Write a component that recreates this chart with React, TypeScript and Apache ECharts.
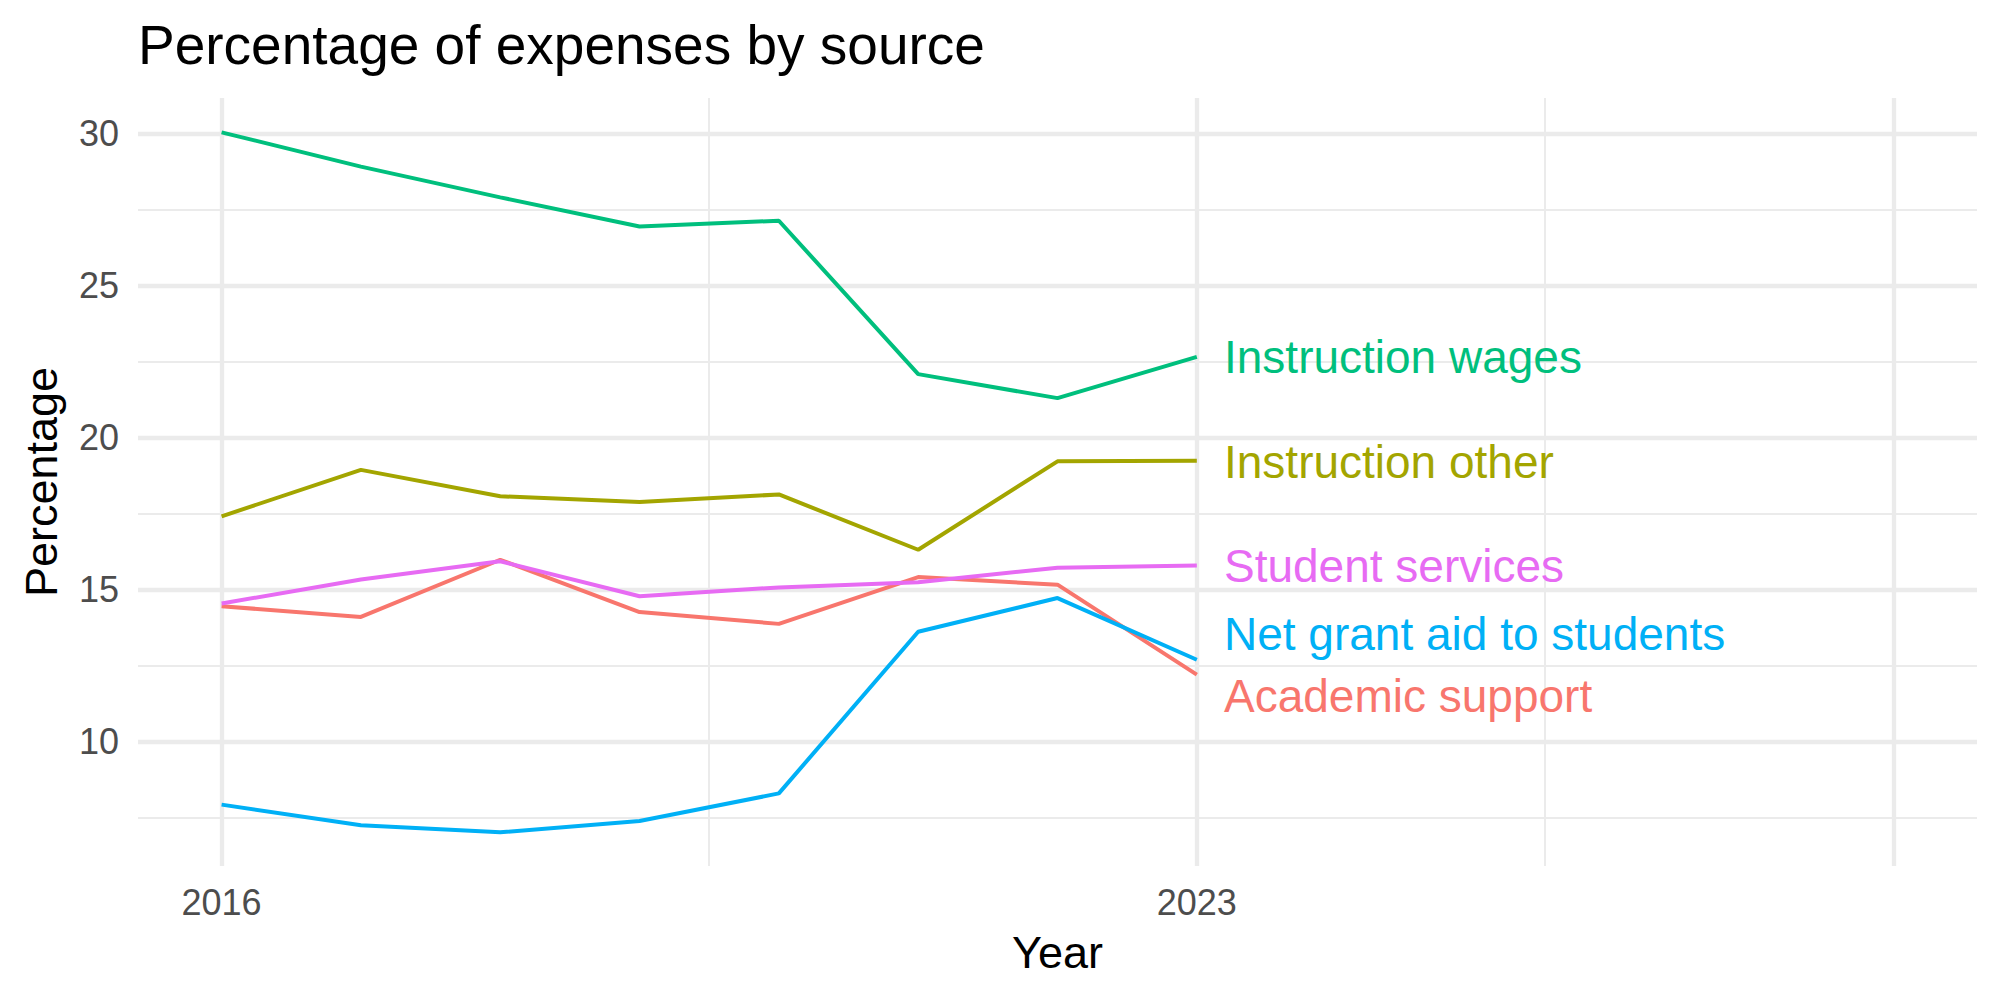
import React, { useEffect, useRef } from "react";
import * as echarts from "echarts";

// Expense shares by source, 2016–2023 (percent)
const years = [2016, 2017, 2018, 2019, 2020, 2021, 2022, 2023];
const seriesNames = [
  "Academic support",
  "Instruction other",
  "Instruction wages",
  "Net grant aid to students",
  "Student services",
];
const academicSupport = [14.45, 14.1, 15.98, 14.26, 13.87, 15.41, 15.16, 12.2];
const instructionOther = [17.41, 18.94, 18.07, 17.88, 18.13, 16.31, 19.22, 19.24];
const instructionWages = [30.05, 28.92, 27.91, 26.95, 27.14, 22.09, 21.3, 22.66];
const netGrantAid = [7.92, 7.24, 7.01, 7.38, 8.29, 13.61, 14.72, 12.69];
const studentServices = [14.54, 15.33, 15.93, 14.78, 15.07, 15.24, 15.72, 15.79];
const seriesColors = ["#F8766D", "#A3A500", "#00BF7D", "#00B0F6", "#E76BF3"];

// Direct labels at the right end of each line (x, y in data units)
const labelX = 2023.195;
const labelY = [11.48, 19.21, 22.66, 13.55, 15.79];

// Axis ticks and grid
const yTickLabels = [10, 15, 20, 25, 30];
const yMinorGrid = [7.5, 12.5, 17.5, 22.5, 27.5];
const xTickLabels = [2016, 2023];
const xMajorGrid = [2016, 2023, 2028];
const xMinorGrid = [2019.5, 2025.5];

const FONT = "'Liberation Sans', Arial, Helvetica, sans-serif";
const GRID_COLOR = "#EBEBEB";

export default function App() {
  const ref = useRef<HTMLDivElement>(null);

  useEffect(() => {
    if (!ref.current) return;
    const chart = echarts.init(ref.current, undefined, { renderer: "svg" });

    const values = [academicSupport, instructionOther, instructionWages, netGrantAid, studentServices];

    const gridLine = (axis: "xAxis" | "yAxis", v: number, width: number) => ({
      [axis]: v,
      lineStyle: { color: GRID_COLOR, width, type: "solid" },
    });

    const lineSeries = seriesNames.map((name, i) => ({
      name,
      type: "line",
      z: 3,
      showSymbol: false,
      silent: true,
      data: years.map((y, j) => [y, values[i][j]]),
      lineStyle: { color: seriesColors[i], width: 4 },
      itemStyle: { color: seriesColors[i] },
    }));

    const labelSeries = seriesNames.map((name, i) => ({
      name: name + " label",
      type: "scatter",
      z: 4,
      silent: true,
      symbolSize: 0,
      itemStyle: { opacity: 1, color: seriesColors[i] },
      data: [[labelX, labelY[i]]],
      label: {
        show: true,
        position: "right",
        distance: 0,
        formatter: name,
        color: seriesColors[i],
        opacity: 1,
        fontSize: 46,
        fontFamily: FONT,
        align: "left",
        verticalAlign: "middle",
      },
    }));

    chart.setOption({
      animation: false,
      backgroundColor: "#FFFFFF",
      textStyle: { fontFamily: FONT },
      title: {
        text: "Percentage of expenses by source",
        left: 138,
        top: 17,
        padding: 0,
        textStyle: { fontSize: 55, fontWeight: "normal", color: "#000000", fontFamily: FONT },
      },
      grid: { left: 138, right: 23, top: 98, bottom: 134, containLabel: false },
      xAxis: {
        type: "value",
        min: 2015.4,
        max: 2028.6,
        name: "Year",
        nameLocation: "middle",
        nameGap: 64,
        nameTextStyle: { fontSize: 45, color: "#000000", fontFamily: FONT },
        axisLine: { show: false },
        axisTick: { show: false },
        splitLine: { show: false },
        axisLabel: {
          customValues: xTickLabels,
          formatter: (v: number) => String(v),
          fontSize: 36,
          color: "#4D4D4D",
          margin: 18,
          fontFamily: FONT,
        },
      },
      yAxis: {
        type: "value",
        min: 5.9,
        max: 31.18,
        name: "Percentage",
        nameLocation: "middle",
        nameRotate: 90,
        nameGap: 74,
        nameTextStyle: { fontSize: 45, color: "#000000", fontFamily: FONT },
        axisLine: { show: false },
        axisTick: { show: false },
        splitLine: { show: false },
        axisLabel: {
          customValues: yTickLabels,
          formatter: (v: number) => String(v),
          fontSize: 36,
          color: "#4D4D4D",
          margin: 19,
          fontFamily: FONT,
        },
      },
      series: [
        {
          name: "grid",
          type: "line",
          z: 1,
          silent: true,
          data: [],
          markLine: {
            z: 1,
            silent: true,
            symbol: ["none", "none"],
            label: { show: false },
            emphasis: { disabled: true },
            data: [
              ...yMinorGrid.map((v) => gridLine("yAxis", v, 2)),
              ...xMinorGrid.map((v) => gridLine("xAxis", v, 2)),
              ...yTickLabels.map((v) => gridLine("yAxis", v, 4.3)),
              ...xMajorGrid.map((v) => gridLine("xAxis", v, 4.3)),
            ],
          },
        },
        ...lineSeries,
        ...labelSeries,
      ],
    });

    return () => chart.dispose();
  }, []);

  return (
    <div
      ref={ref}
      style={{ position: "fixed", left: 0, top: 0, width: 2000, height: 1000, background: "#FFFFFF" }}
    />
  );
}
